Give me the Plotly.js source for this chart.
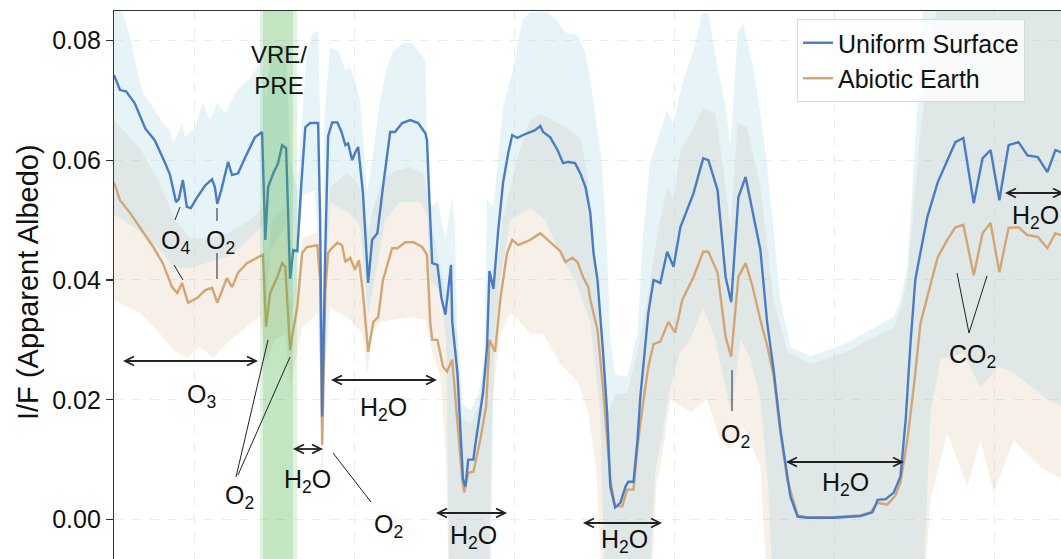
<!DOCTYPE html>
<html><head><meta charset="utf-8">
<script src="https://cdn.plot.ly/plotly-3.0.1.min.js"></script>
<style>
html,body{margin:0;padding:0;overflow:hidden;background:#fff;width:1061px;height:559px}
#chart{width:1200px;height:640px}
</style>
</head><body><div id="chart"></div>
<script>
// ---------------- data ----------------
// wavelength (um) and I/F for the "Uniform Surface" median spectrum
const wlUniform = [0.500,0.5075,0.515,0.526,0.539,0.551,0.564,0.570,0.5775,0.581,0.586,0.591,0.596,0.6025,0.614,0.6225,0.626,0.629,0.634,0.6425,0.6475,0.655,0.664,0.676,0.685,0.689,0.6925,0.699,0.705,0.710,0.715,0.720,0.724,0.729,0.734,0.739,0.745,0.755,0.7575,0.760,0.764,0.7675,0.7725,0.779,0.784,0.789,0.7925,0.7975,0.801,0.805,0.811,0.8175,0.8225,0.829,0.836,0.845,0.851,0.860,0.870,0.880,0.889,0.891,0.894,0.8975,0.904,0.909,0.914,0.921,0.9225,0.929,0.936,0.939,0.9425,0.949,0.951,0.961,0.966,0.969,0.974,0.980,0.986,0.9925,0.9975,1.004,1.011,1.020,1.026,1.0325,1.036,1.045,1.054,1.061,1.0675,1.076,1.0825,1.089,1.095,1.099,1.104,1.111,1.116,1.120,1.126,1.1325,1.139,1.1425,1.149,1.154,1.1575,1.164,1.1675,1.174,1.1825,1.191,1.199,1.2075,1.224,1.236,1.2425,1.254,1.264,1.271,1.280,1.289,1.2975,1.3075,1.316,1.324,1.3325,1.339,1.345,1.354,1.366,1.399,1.4325,1.4475,1.454,1.464,1.474,1.4825,1.489,1.495,1.501,1.504,1.516,1.529,1.541,1.551,1.561,1.574,1.585,1.595,1.606,1.6175,1.630,1.641,1.654,1.666,1.676,1.689];
const uniform = [0.0742,0.0717,0.0715,0.0695,0.0653,0.0633,0.0595,0.0575,0.0530,0.0535,0.0567,0.0522,0.0520,0.0535,0.0558,0.0568,0.0555,0.0527,0.0550,0.0597,0.0575,0.0578,0.0605,0.0638,0.0647,0.0467,0.0555,0.0578,0.0595,0.0625,0.0620,0.0402,0.0450,0.0448,0.0560,0.0655,0.0662,0.0662,0.0500,0.0172,0.0450,0.0640,0.0663,0.0663,0.0648,0.0625,0.0628,0.0600,0.0612,0.0622,0.0545,0.0395,0.0467,0.0478,0.0555,0.0647,0.0647,0.0662,0.0667,0.0662,0.0645,0.0633,0.0533,0.0428,0.0425,0.0370,0.0342,0.0425,0.0330,0.0245,0.0067,0.0055,0.0100,0.0100,0.0122,0.0212,0.0288,0.0415,0.0385,0.0483,0.0562,0.0612,0.0642,0.0637,0.0642,0.0647,0.0650,0.0657,0.0647,0.0638,0.0617,0.0595,0.0597,0.0595,0.0578,0.0555,0.0512,0.0445,0.0400,0.0278,0.0178,0.0055,0.0020,0.0028,0.0055,0.0063,0.0063,0.0133,0.0205,0.0295,0.0345,0.0400,0.0395,0.0447,0.0422,0.0488,0.0545,0.0603,0.0600,0.0550,0.0405,0.0363,0.0538,0.0572,0.0515,0.0450,0.0328,0.0250,0.0150,0.0088,0.0038,0.0005,0.0003,0.0003,0.0006,0.0012,0.0033,0.0034,0.0045,0.0072,0.0167,0.0295,0.0400,0.0422,0.0505,0.0563,0.0600,0.0630,0.0637,0.0528,0.0603,0.0617,0.0533,0.0625,0.0630,0.0608,0.0605,0.0580,0.0617,0.0610];

// "Abiotic Earth" median spectrum
const wlAbiotic = [0.500,0.505,0.5075,0.520,0.535,0.549,0.561,0.5725,0.579,0.585,0.5925,0.604,0.614,0.6225,0.629,0.635,0.641,0.6475,0.655,0.666,0.679,0.686,0.690,0.695,0.704,0.710,0.714,0.720,0.724,0.729,0.735,0.741,0.754,0.7575,0.760,0.764,0.7675,0.770,0.779,0.785,0.789,0.795,0.801,0.806,0.811,0.8175,0.824,0.830,0.836,0.8475,0.854,0.864,0.874,0.885,0.891,0.895,0.8975,0.904,0.9075,0.911,0.916,0.9225,0.929,0.935,0.9375,0.9425,0.949,0.9575,0.965,0.969,0.976,0.9825,0.991,0.9975,1.005,1.020,1.0325,1.045,1.0575,1.064,1.0725,1.079,1.086,1.0925,1.095,1.104,1.111,1.120,1.126,1.135,1.141,1.149,1.154,1.161,1.1675,1.174,1.1825,1.1925,1.201,1.210,1.224,1.236,1.2425,1.254,1.264,1.271,1.280,1.289,1.2975,1.3075,1.316,1.324,1.3325,1.341,1.354,1.366,1.399,1.4325,1.445,1.454,1.466,1.476,1.4825,1.491,1.499,1.5075,1.5175,1.529,1.541,1.551,1.561,1.574,1.585,1.595,1.606,1.6175,1.630,1.641,1.654,1.666,1.676,1.689];
const abiotic = [0.0563,0.0545,0.0533,0.0512,0.0483,0.0455,0.0428,0.0388,0.0378,0.0395,0.0362,0.0370,0.0383,0.0387,0.0362,0.0383,0.0403,0.0388,0.0412,0.0428,0.0438,0.0442,0.0322,0.0378,0.0405,0.0428,0.0422,0.0283,0.0317,0.0355,0.0445,0.0455,0.0458,0.0400,0.0125,0.0380,0.0445,0.0450,0.0462,0.0458,0.0430,0.0437,0.0417,0.0433,0.0378,0.0280,0.0330,0.0338,0.0400,0.0453,0.0453,0.0463,0.0463,0.0455,0.0442,0.0330,0.0300,0.0300,0.0278,0.0255,0.0247,0.0267,0.0162,0.0067,0.0045,0.0078,0.0080,0.0133,0.0190,0.0300,0.0280,0.0367,0.0445,0.0467,0.0458,0.0467,0.0478,0.0463,0.0448,0.0430,0.0437,0.0430,0.0405,0.0388,0.0367,0.0317,0.0217,0.0067,0.0022,0.0022,0.0050,0.0050,0.0122,0.0195,0.0255,0.0293,0.0297,0.0330,0.0312,0.0367,0.0405,0.0447,0.0447,0.0412,0.0305,0.0272,0.0405,0.0428,0.0390,0.0333,0.0290,0.0240,0.0145,0.0067,0.0007,0.0004,0.0004,0.0007,0.0012,0.0028,0.0025,0.0040,0.0062,0.0133,0.0220,0.0328,0.0378,0.0438,0.0467,0.0488,0.0492,0.0408,0.0478,0.0495,0.0413,0.0487,0.0488,0.0475,0.0472,0.0453,0.0478,0.0472];

// Uniform Surface spread (upper / lower envelope)
const wlUniformHi = [0.500,0.511,0.520,0.526,0.536,0.549,0.561,0.570,0.574,0.585,0.589,0.601,0.611,0.620,0.629,0.639,0.654,0.670,0.685,0.690,0.695,0.7075,0.715,0.720,0.729,0.735,0.740,0.7475,0.755,0.7575,0.760,0.7625,0.770,0.780,0.789,0.795,0.801,0.8075,0.816,0.8225,0.8325,0.841,0.849,0.861,0.8725,0.8825,0.889,0.8925,0.8975,0.904,0.914,0.9225,0.926,0.929,0.935,0.945,0.955,0.9625,0.966,0.974,0.986,0.999,1.010,1.020,1.041,1.054,1.061,1.066,1.080,1.089,1.099,1.110,1.116,1.120,1.126,1.141,1.154,1.161,1.170,1.179,1.191,1.199,1.210,1.224,1.235,1.2425,1.254,1.264,1.270,1.279,1.286,1.299,1.3075,1.316,1.324,1.3325,1.345,1.370,1.416,1.4575,1.474,1.4825,1.491,1.499,1.504,1.5075,1.511,1.520,1.700];
const uniformHi = [0.087,0.0845,0.0805,0.0767,0.0712,0.0688,0.0662,0.0650,0.0628,0.0662,0.0638,0.0655,0.0695,0.0667,0.0695,0.0678,0.0717,0.0737,0.0767,0.0700,0.0767,0.0792,0.0792,0.0600,0.0550,0.0667,0.0767,0.0810,0.0817,0.0667,0.0250,0.0667,0.0788,0.0783,0.0750,0.0755,0.0733,0.0700,0.0545,0.0600,0.0700,0.0755,0.0783,0.0795,0.0795,0.0778,0.0767,0.0545,0.0522,0.0533,0.0467,0.0538,0.0478,0.0317,0.0192,0.0183,0.0208,0.0267,0.0533,0.0522,0.0688,0.0755,0.0833,0.0847,0.0847,0.0833,0.0817,0.0812,0.0808,0.0778,0.0700,0.0588,0.0445,0.0300,0.0242,0.0238,0.0310,0.0478,0.0600,0.0633,0.0683,0.0662,0.0728,0.0783,0.0845,0.0845,0.0755,0.0688,0.0622,0.0812,0.0828,0.0750,0.0678,0.0588,0.0478,0.0367,0.0288,0.0272,0.0295,0.0325,0.0338,0.0367,0.0422,0.0588,0.0700,0.0810,0.0858,0.0920,0.0950];
const wlUniformLo = [0.500,0.5325,0.5575,0.576,0.595,0.620,0.645,0.670,0.685,0.690,0.695,0.714,0.720,0.729,0.735,0.751,0.7575,0.760,0.764,0.770,0.795,0.8075,0.8175,0.826,0.839,0.8575,0.8825,0.891,0.895,0.9075,0.915,0.919,0.970,0.975,0.9825,0.995,1.020,1.039,1.0575,1.076,1.095,1.1075,1.114,1.1675,1.176,1.185,1.195,1.2075,1.220,1.236,1.251,1.264,1.271,1.2825,1.295,1.3075,1.3175,1.324,1.510,1.520,1.5325,1.561,1.5825,1.604,1.624,1.666,1.700];
const uniformLo = [0.051,0.048,0.045,0.042,0.042,0.043,0.044,0.047,0.049,0.036,0.045,0.049,0.033,0.040,0.054,0.055,0.040,0.010,0.040,0.053,0.051,0.049,0.034,0.040,0.050,0.053,0.053,0.051,0.040,0.038,0.030,-0.015,-0.015,0.030,0.040,0.050,0.052,0.050,0.044,0.040,0.033,0.018,-0.015,-0.015,0.008,0.014,0.022,0.028,0.030,0.0355,0.030,0.022,0.018,0.030,0.027,0.020,0.005,-0.015,-0.015,0.018,0.0267,0.0278,0.022,0.0255,0.0245,0.020,0.018];

// Abiotic Earth spread (upper / lower envelope)
const wlAbioticHi = [0.500,0.5325,0.5575,0.576,0.595,0.620,0.645,0.670,0.685,0.690,0.6975,0.714,0.720,0.729,0.735,0.754,0.7575,0.760,0.764,0.770,0.791,0.805,0.811,0.8175,0.824,0.836,0.854,0.870,0.886,0.8925,0.899,0.9075,0.916,0.9225,0.929,0.935,0.945,0.955,0.9625,0.970,0.979,0.986,0.995,1.004,1.020,1.0325,1.054,1.070,1.0825,1.091,1.099,1.105,1.111,1.1175,1.126,1.141,1.154,1.166,1.179,1.191,1.199,1.2075,1.224,1.236,1.251,1.261,1.270,1.279,1.291,1.3075,1.324,1.341,1.370,1.416,1.4575,1.474,1.4825,1.491,1.499,1.5075,1.520,1.5325,1.700];
const abioticHi = [0.0667,0.062,0.056,0.050,0.047,0.047,0.048,0.050,0.052,0.042,0.050,0.052,0.036,0.040,0.047,0.048,0.044,0.018,0.044,0.0555,0.0578,0.056,0.0533,0.0478,0.052,0.057,0.0583,0.0588,0.0578,0.0533,0.0478,0.042,0.037,0.040,0.030,0.017,0.016,0.019,0.025,0.040,0.042,0.0505,0.0555,0.0605,0.0667,0.0678,0.0662,0.0650,0.0638,0.0578,0.0478,0.0367,0.025,0.018,0.021,0.021,0.028,0.0367,0.0478,0.0555,0.0533,0.0617,0.0655,0.0688,0.0678,0.0588,0.0488,0.0662,0.0655,0.0555,0.0367,0.028,0.026,0.028,0.031,0.032,0.035,0.040,0.052,0.065,0.078,0.090,0.095];
const wlAbioticLo = [0.500,0.5325,0.5575,0.574,0.591,0.6075,0.624,0.645,0.666,0.6825,0.690,0.701,0.714,0.720,0.729,0.735,0.754,0.7575,0.760,0.764,0.770,0.795,0.811,0.816,0.8225,0.8325,0.849,0.870,0.889,0.8975,0.9075,0.915,0.919,0.9675,0.9725,0.9825,0.995,1.004,1.020,1.036,1.0575,1.079,1.0925,1.1025,1.111,1.170,1.1775,1.1825,1.195,1.220,1.241,1.2575,1.270,1.286,1.3075,1.3175,1.510,1.520,1.541,1.566,1.5825,1.599,1.624,1.6575,1.700];
const abioticLo = [0.0367,0.0345,0.031,0.0283,0.027,0.0288,0.027,0.030,0.0322,0.034,0.026,0.030,0.031,0.022,0.028,0.032,0.0345,0.025,0.003,0.025,0.0355,0.0333,0.031,0.024,0.031,0.033,0.0333,0.0338,0.0333,0.028,0.024,0.010,-0.015,-0.015,0.020,0.031,0.0345,0.0335,0.031,0.031,0.026,0.023,0.018,0.008,-0.015,-0.015,0.006,0.0088,0.020,0.018,0.020,0.0133,0.0117,0.0155,0.0088,-0.015,-0.015,0.0033,0.0145,0.0055,0.0133,0.0045,0.0133,0.0088,0.0055];

const seriesNames = ['Uniform Surface', 'Abiotic Earth'];
const yTickVals = [0.00, 0.02, 0.04, 0.06, 0.08];
const vreBand = [0.686, 0.7235];   // VRE/PRE highlighted wavelength span (um)

// ---------------- geometry helpers (reference pixel -> data) ----------------
const W = 1200, H = 640, ML = 114, MT = 11, MR = 46, MB = 49;
const PW = W - ML - MR, PH = H - MT - MB;
const PX_PER_UM = 800.5, PX_PER_UNIT = 5990, X_LEFT = 0.5, Y_TOP = 0.0849;
const X = px => X_LEFT + (px - ML) / PX_PER_UM;
const Y = py => Y_TOP - (py - MT) / PX_PER_UNIT;
const xRange = [X_LEFT, X(W - MR)];
const yRange = [Y(H - MB), Y_TOP];

const FONT = 'Liberation Sans, Arial, Helvetica, sans-serif';
const BLUE = '#4a7cc4', ORANGE = '#d4a574', INK = '#222222';

function bandTrace(xHi, yHi, xLo, yLo, color){
  return {type:'scatter', mode:'lines', x: xHi.concat(xLo.slice().reverse()),
    y: yHi.concat(yLo.slice().reverse()), fill:'toself', fillcolor: color,
    line:{width:0, color:'rgba(0,0,0,0)'}, hoverinfo:'skip', showlegend:false};
}

const traces = [
  bandTrace(wlAbioticHi, abioticHi, wlAbioticLo, abioticLo, 'rgba(210,180,140,0.2)'),
  bandTrace(wlUniformHi, uniformHi, wlUniformLo, uniformLo, 'rgba(173,216,230,0.3)'),
  {type:'scatter', mode:'lines', name: seriesNames[1], x: wlAbiotic, y: abiotic,
   line:{color: ORANGE, width:2.4}},
  {type:'scatter', mode:'lines', name: seriesNames[0], x: wlUniform, y: uniform,
   line:{color: BLUE, width:2.4}}
];

// ---------------- annotations ----------------
const annFont = {family: FONT, size: 25, color: '#111'};
function label(text, pxLeft, pyMid){
  return {text, x: X(pxLeft), y: Y(pyMid), xref:'x', yref:'y', xanchor:'left', yanchor:'middle',
          showarrow:false, font: annFont};
}
function seg(px0, py0, px1, py1, w){
  return {type:'line', xref:'x', yref:'y', x0:X(px0), y0:Y(py0), x1:X(px1), y1:Y(py1),
          line:{color: INK, width: w || 1}, layer:'above'};
}
// double-headed horizontal arrow ("<->"): shaft + two open chevron heads
function dblArrow(px0, px1, py){
  const hl = 9, hw = 4.5;
  const head = (tip, dir) => ({type:'path', xref:'x', yref:'y', layer:'above',
    path: `M ${X(tip + dir*hl)},${Y(py - hw)} L ${X(tip)},${Y(py)} L ${X(tip + dir*hl)},${Y(py + hw)}`,
    line:{color: INK, width:1.8}});
  return [seg(px0, py, px1, py, 1.8), head(px0, 1), head(px1, -1)];
}

const annotations = [
  {text:'I/F (Apparent Albedo)', xref:'paper', yref:'paper', x: (28 - ML) / PW, y: 1 - (282 - MT) / PH,
   xanchor:'center', yanchor:'middle', textangle:-90, showarrow:false, font:{family: FONT, size: 29, color:'#111'}},
  {text:'VRE/<br>PRE', x: X(279), y: Y(70), xref:'x', yref:'y', xanchor:'center', yanchor:'middle', showarrow:false,
   font:{family: FONT, size: 24, color:'#111'}},
  label('O<sub>4</sub>', 159, 242),
  label('O<sub>2</sub>', 204, 242),
  label('O<sub>3</sub>', 185, 396),
  label('O<sub>2</sub>', 223, 497),
  label('H<sub>2</sub>O', 282, 481),
  label('O<sub>2</sub>', 372, 526),
  label('H<sub>2</sub>O', 358, 409),
  label('H<sub>2</sub>O', 448, 537),
  label('H<sub>2</sub>O', 599, 541),
  label('O<sub>2</sub>', 719, 436),
  label('H<sub>2</sub>O', 820, 484),
  label('CO<sub>2</sub>', 947, 356),
  label('H<sub>2</sub>O', 1010, 217)
];

const shapes = [
  {type:'rect', xref:'x', yref:'paper', x0: X(260), x1: vreBand[0], y0:0, y1:1, fillcolor:'rgba(70,175,70,0.15)', line:{width:0}, layer:'above'},
  {type:'rect', xref:'x', yref:'paper', x0: vreBand[0], x1: vreBand[1], y0:0, y1:1, fillcolor:'rgba(70,175,70,0.33)', line:{width:0}, layer:'above'},
  {type:'rect', xref:'x', yref:'paper', x0: vreBand[1], x1: X(297), y0:0, y1:1, fillcolor:'rgba(70,175,70,0.15)', line:{width:0}, layer:'above'},
  seg(180, 207, 175, 220),
  seg(174, 265, 183, 280),
  seg(217, 208, 217, 221),
  seg(217, 253, 217, 279),
  seg(236, 477, 268, 340),
  seg(238, 475, 290, 357),
  seg(333, 453, 371, 502),
  seg(732, 370, 732, 411),
  seg(957, 273, 969, 333),
  seg(987, 276, 969, 333),
  ...dblArrow(125, 256, 361),
  ...dblArrow(295, 321, 449),
  ...dblArrow(333, 435, 380),
  ...dblArrow(438, 505, 513),
  ...dblArrow(585, 660, 523),
  ...dblArrow(788, 902, 462),
  ...dblArrow(1007, 1062, 193)
];

const layout = {
  width: W, height: H,
  margin: {l: ML, r: MR, t: MT, b: MB, pad: 0},
  paper_bgcolor: '#ffffff', plot_bgcolor: '#ffffff',
  font: {family: FONT, color: '#111'},
  showlegend: true,
  legend: {x: (797 - ML) / PW, y: 1 - (19 - MT) / PH, xanchor:'left', yanchor:'top',
           bgcolor:'rgba(255,255,255,0.8)', bordercolor:'#d9d9d9', borderwidth:1,
           font:{family: FONT, size: 25, color:'#111'}, traceorder:'reversed'},
  xaxis: {range: xRange, showticklabels:false, ticks:'', showgrid:true, gridcolor:'#ececec', griddash:'dash',
          gridwidth:1, tick0:0.6, dtick:0.2, zeroline:false, showline:true, mirror:true, linecolor:'#333', linewidth:1.2},
  yaxis: {range: yRange, tickmode:'array', tickvals: yTickVals, tickformat:'.2f', ticks:'outside', ticklen:7,
          tickwidth:1.2, tickcolor:'#333', showgrid:true, gridcolor:'#ececec', griddash:'dash', gridwidth:1,
          zeroline:false, showline:true, linecolor:'#333', linewidth:1.2,
          tickfont:{family: FONT, size: 25, color:'#111'}},
  annotations, shapes
};

Plotly.newPlot('chart', traces, layout, {staticPlot:true, displayModeBar:false});
</script>
</body></html>
